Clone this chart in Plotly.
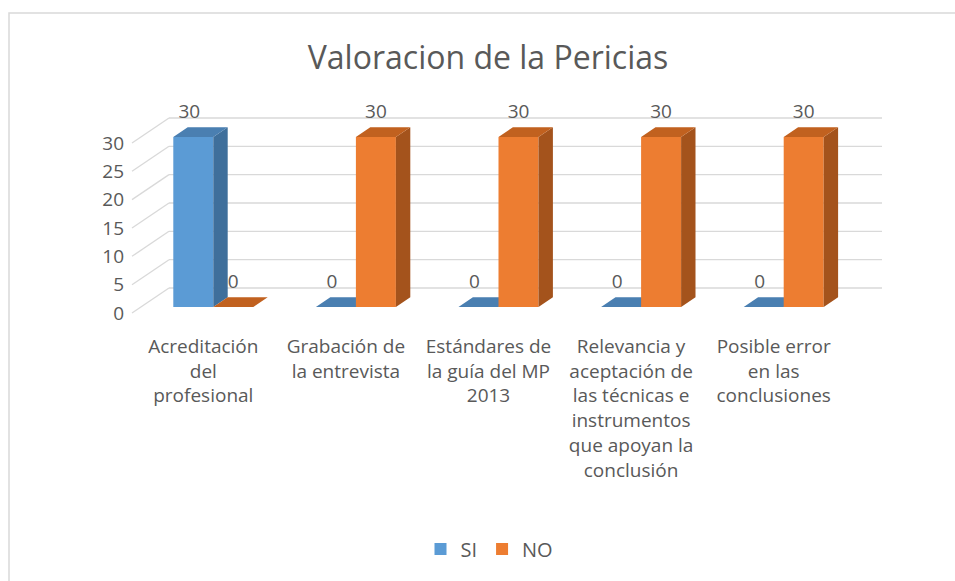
import plotly.graph_objects as go

# ---------------- data ----------------
categories = [
    "Acreditación del profesional",
    "Grabación de la entrevista",
    "Estándares de la guía del MP 2013",
    "Relevancia y aceptación de las técnicas e instrumentos que apoyan la conclusión",
    "Posible error en las conclusiones",
]
category_labels = [
    "Acreditación<br>del<br>profesional",
    "Grabación de<br>la entrevista",
    "Estándares de<br>la guía del MP<br>2013",
    "Relevancia y<br>aceptación de<br>las técnicas e<br>instrumentos<br>que apoyan la<br>conclusión",
    "Posible error<br>en las<br>conclusiones",
]
series_names = ["SI", "NO"]
si_values = [30, 0, 0, 0, 0]
no_values = [0, 30, 30, 30, 30]
y_ticks = [0, 5, 10, 15, 20, 25, 30]

# ---------------- geometry / style ----------------
W, H = 955, 581
WALL_LEFT = 132.0      # px, front edge of side wall
CAT_PX = 142.6         # px per category
ZERO_PY = 313.0        # px, value 0 at front
UNIT_PY = 5.667        # px per value unit
WALL_DX, WALL_DY = 37.0, 25.0
BAR_DX0, BAR_DY0 = 10.0, 6.0
BAR_DX1, BAR_DY1 = 24.4, 15.7
BAR_W_PX = 40.0
LABEL_UP_PX = 24.0

FONT = "Open Sans, Carlito, Calibri, sans-serif"
TXT = "#595959"
GRID = "#D9D9D9"

colors = {
    "SI": {"front": "#5B9BD5", "side": "#3F6F9B", "top": "#4A7FB1"},
    "NO": {"front": "#ED7D31", "side": "#A4531C", "top": "#C1611F"},
}


def xu(px):
    return px / CAT_PX


def yu(py):
    return py / UNIT_PY


x_range = [(0 - WALL_LEFT) / CAT_PX - 0.5, (W - WALL_LEFT) / CAT_PX - 0.5]
y_range = [(ZERO_PY - H) / UNIT_PY, ZERO_PY / UNIT_PY]

fig = go.Figure()

# ---------- walls gridlines (subplot xy, drawn first) ----------
n = len(categories)
gx, gy = [], []
for v in y_ticks:
    # back wall
    gx += [-0.5 + xu(WALL_DX), n - 0.5 + xu(WALL_DX), None]
    gy += [v + yu(WALL_DY), v + yu(WALL_DY), None]
    # side wall (slanted)
    gx += [-0.5, -0.5 + xu(WALL_DX), None]
    gy += [v, v + yu(WALL_DY), None]
fig.add_trace(go.Scatter(x=gx, y=gy, mode="lines", line=dict(color=GRID, width=1.3),
                         hoverinfo="skip", showlegend=False, xaxis="x", yaxis="y"))

base = yu(BAR_DY0)
bw = xu(BAR_W_PX)
ddx = xu(BAR_DX1 - BAR_DX0)
ddy = yu(BAR_DY1 - BAR_DY0)


def add_series(name, values, offset, xa, ya):
    c = colors[name]
    xs = [i + xu(BAR_DX0) for i in range(len(values))]
    fig.add_trace(go.Bar(
        x=xs, y=values, base=base, width=bw, offset=offset,
        marker=dict(color=c["front"], line=dict(width=0)),
        name=name, showlegend=True, hoverinfo="skip", xaxis=xa, yaxis=ya,
    ))
    sx, sy, tx, ty = [], [], [], []
    for x0, v in zip(xs, values):
        xl = x0 + offset
        xr = xl + bw
        sx += [xr, xr, xr + ddx, xr + ddx, xr, None]
        sy += [base, base + v, base + v + ddy, base + ddy, base, None]
        tx += [xl, xr, xr + ddx, xl + ddx, xl, None]
        ty += [base + v, base + v, base + v + ddy, base + v + ddy, base + v, None]
    fig.add_trace(go.Scatter(x=sx, y=sy, mode="lines", fill="toself", fillcolor=c["side"],
                             line=dict(width=0, color=c["side"]), hoverinfo="skip",
                             showlegend=False, xaxis=xa, yaxis=ya))
    fig.add_trace(go.Scatter(x=tx, y=ty, mode="lines", fill="toself", fillcolor=c["top"],
                             line=dict(width=0, color=c["top"]), hoverinfo="skip",
                             showlegend=False, xaxis=xa, yaxis=ya))
    return xs


si_x = add_series("SI", si_values, -bw, "x2", "y2")
no_x = add_series("NO", no_values, 0.0, "x3", "y3")

# data labels
lx = [x - bw / 2 - xu(4) for x in si_x] + [x + bw / 2 for x in no_x]
ly = [base + v + yu(LABEL_UP_PX) for v in si_values] + [base + v + yu(LABEL_UP_PX) for v in no_values]
lt = [str(v) for v in si_values] + [str(v) for v in no_values]
fig.add_trace(go.Scatter(x=lx, y=ly, text=lt, mode="text",
                         textfont=dict(family=FONT, size=19, color=TXT),
                         hoverinfo="skip", showlegend=False, xaxis="x3", yaxis="y3"))

hidden = dict(range=x_range, visible=False, fixedrange=True)
fig.update_layout(
    width=W, height=H,
    margin=dict(l=0, r=0, t=0, b=0),
    paper_bgcolor="white", plot_bgcolor="rgba(0,0,0,0)",
    barmode="overlay",
    font=dict(family=FONT, color=TXT),
    title=dict(text="Valoracion de la Pericias", x=488 / W, xanchor="center",
               y=1 - 58 / H, yanchor="middle",
               font=dict(family=FONT, size=32, color=TXT)),
    xaxis=dict(domain=[0, 1], range=x_range, anchor="free", position=1 - 333 / H,
               tickvals=list(range(n)), ticktext=category_labels,
               showgrid=False, zeroline=False, showline=False, ticks="",
               tickfont=dict(family=FONT, size=19, color=TXT), fixedrange=True),
    yaxis=dict(domain=[0, 1], range=y_range, anchor="free", position=124 / W,
               tickvals=y_ticks, showgrid=False, zeroline=False, showline=False, ticks="",
               tickfont=dict(family=FONT, size=19, color=TXT), fixedrange=True),
    xaxis2=dict(overlaying="x", **hidden),
    xaxis3=dict(overlaying="x", **hidden),
    yaxis2=dict(overlaying="y", range=y_range, visible=False, fixedrange=True),
    yaxis3=dict(overlaying="y", range=y_range, visible=False, fixedrange=True),
    legend=dict(orientation="h", x=0.5 + 12 / W, xanchor="center", y=1 - 549 / H,
                yanchor="middle",
                font=dict(family=FONT, size=20, color=TXT), bgcolor="rgba(0,0,0,0)",
                traceorder="normal", itemwidth=30),
    shapes=[dict(type="rect", xref="paper", yref="paper",
                 x0=9 / W, x1=1.2, y0=-0.2, y1=1 - 13 / H,
                 line=dict(color=GRID, width=1.5), fillcolor="rgba(0,0,0,0)", layer="below")],
    showlegend=True,
)

fig.write_html(
    "out.html",
    config={"displayModeBar": False},
    post_script="document.body.style.margin='0';document.body.style.overflow='hidden';",
)
